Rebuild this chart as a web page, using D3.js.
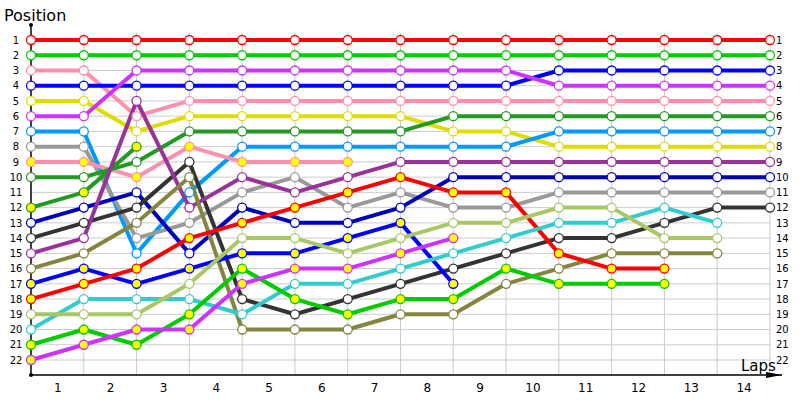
<!DOCTYPE html>
<html>
<head>
<meta charset="utf-8">
<script src="https://cdn.jsdelivr.net/npm/d3@7"></script>
<style>
  html, body { margin: 0; padding: 0; background: #fff; }
  svg { display: block; }
  text { font-family: Tahoma, "DejaVu Sans", Verdana, sans-serif; }
</style>
</head>
<body>
<svg id="chart" width="800" height="400"></svg>
<script>
// ---- data (positions per lap column, null = retired) ----
const lapLabels = ["1","2","3","4","5","6","7","8","9","10","11","12","13","14"];
const positionTicks = [1,2,3,4,5,6,7,8,9,10,11,12,13,14,15,16,17,18,19,20,21,22];

const redA       = [1,1,1,1,1,1,1,1,1,1,1,1,1,1,1];
const greenA     = [2,2,2,2,2,2,2,2,2,2,2,2,2,2,2];
const pinkA      = [3,3,6,5,5,5,5,5,5,5,5,5,5,5,5];
const blueA      = [4,4,4,4,4,4,4,4,4,4,3,3,3,3,3];
const yellowA    = [5,5,7,6,6,6,6,6,7,7,8,8,8,8,8];
const magentaA   = [6,6,3,3,3,3,3,3,3,3,4,4,4,4,4];
const skyA       = [7,7,15,11,8,8,8,8,8,8,7,7,7,7,7];
const grayA      = [8,8,14,13,11,10,12,11,12,12,11,11,11,11,11];
const pinkB      = [9,9,10,8,9,9,9,null,null,null,null,null,null,null,null];
const darkGreenA = [10,10,9,7,7,7,7,7,6,6,6,6,6,6,6];
const darkGreenB = [12,11,8,null,null,null,null,null,null,null,null,null,null,null,null];
const navyA      = [13,12,11,15,12,13,13,12,10,10,10,10,10,10,10];
const blackA     = [14,13,12,9,18,19,18,17,16,15,14,14,13,12,12];
const purpleA    = [15,14,5,12,10,11,10,9,9,9,9,9,9,9,9];
const oliveA     = [16,15,13,10,20,20,20,19,19,17,16,15,15,15,null];
const blueB      = [17,16,17,16,15,15,14,13,17,null,null,null,null,null,null];
const redB       = [18,17,16,14,13,12,11,10,11,11,15,16,16,null,null];
const cyanA      = [20,18,18,18,19,17,17,16,15,14,13,13,12,13,null];
const limeA      = [19,19,19,17,14,14,15,14,13,13,12,12,14,14,null];
const greenB     = [21,20,21,19,16,18,19,18,18,16,17,17,17,null,null];
const magentaB   = [22,21,20,20,17,16,16,15,14,null,null,null,null,null,null];

const seriesValues = [redA, greenA, pinkA, blueA, yellowA, magentaA, skyA, grayA, pinkB,
  darkGreenA, darkGreenB, navyA, blackA, purpleA, oliveA, blueB, redB, cyanA, limeA, greenB, magentaB];
const seriesColors = ["#ff0000","#00cc00","#ff8fab","#0000ff","#dddd00","#cc33ff","#0099ff","#999999","#ff8fab",
  "#229922","#229922","#0000bb","#333333","#993399","#85853f","#0000ff","#ff0000","#33cccc","#a8c866","#00cc00","#cc33ff"];
const seriesYellowMarker = [false,false,false,false,false,false,false,false,true,
  false,true,false,false,false,false,true,true,false,false,true,true];

// ---- layout ----
const svg = d3.select("#chart");
const x = d3.scaleLinear().domain([0, 14]).range([31, 770]);
const y = d3.scaleLinear().domain([1, 22]).range([40, 360]);
const axisY = 375;

// grid
const grid = svg.append("g");
grid.selectAll("line.h").data(positionTicks).join("line")
  .attr("x1", x(0)).attr("x2", x(14))
  .attr("y1", d => y(d)).attr("y2", d => y(d))
  .attr("stroke", "#cccccc").attr("stroke-width", 1);
grid.selectAll("line.v").data(d3.range(1, 15)).join("line")
  .attr("x1", d => x(d)).attr("x2", d => x(d))
  .attr("y1", 33).attr("y2", axisY)
  .attr("stroke", "#cccccc").attr("stroke-width", 1);

// axes
const leftAxis = d3.axisLeft(y).tickValues(positionTicks).tickSize(0).tickPadding(10);
const gl = svg.append("g").attr("transform", `translate(${x(0) - 7},0)`).call(leftAxis);
gl.select(".domain").remove();
gl.selectAll("text").attr("font-size", 10).attr("fill", "#000").attr("text-anchor", "middle").attr("dx", 2);

const rightAxis = d3.axisRight(y).tickValues(positionTicks).tickSize(0).tickPadding(6);
const gr = svg.append("g").attr("transform", `translate(${x(14)},0)`).call(rightAxis);
gr.select(".domain").remove();
gr.selectAll("text").attr("font-size", 10).attr("fill", "#000");

const lapScale = d3.scaleLinear().domain([0.5, 14.5]).range([x(0.5), x(14.5)]);
const bottomAxis = d3.axisBottom(lapScale).tickValues(d3.range(1, 15).map(d => d - 0.5))
  .tickFormat((d, i) => lapLabels[i]).tickSize(0).tickPadding(8);
const gb = svg.append("g").attr("transform", `translate(0,${axisY})`).call(bottomAxis);
gb.select(".domain").remove();
gb.selectAll("text").attr("font-size", 12).attr("fill", "#000");

// axis lines
svg.append("line").attr("x1", x(0)).attr("x2", x(0)).attr("y1", 25).attr("y2", axisY)
  .attr("stroke", "#000").attr("stroke-width", 1.5);
svg.append("line").attr("x1", x(0)).attr("x2", 782).attr("y1", axisY).attr("y2", axisY)
  .attr("stroke", "#000").attr("stroke-width", 1.5);
svg.append("path").attr("d", `M766,${axisY - 3} L782,${axisY} L766,${axisY + 3} Z`).attr("fill", "#000");
svg.append("circle").attr("cx", x(0)).attr("cy", 25).attr("r", 2).attr("fill", "#000");
svg.append("circle").attr("cx", x(0)).attr("cy", axisY).attr("r", 2).attr("fill", "#000");

svg.append("text").attr("x", 4).attr("y", 21).attr("font-size", 16).text("Position");
svg.append("text").attr("x", 741).attr("y", 371).attr("font-size", 15).text("Laps");

// series
const series = seriesValues.map((vals, i) => ({
  color: seriesColors[i], yellow: seriesYellowMarker[i],
  points: vals.map((v, j) => ({lap: j, pos: v})).filter(p => p.pos !== null)
}));

const line = d3.line().x(d => x(d.lap)).y(d => y(d.pos));
const gs = svg.append("g");
gs.selectAll("path").data(series).join("path")
  .attr("d", d => line(d.points))
  .attr("fill", "none").attr("stroke", d => d.color)
  .attr("stroke-width", 4).attr("stroke-linejoin", "round");

const gm = svg.append("g");
series.forEach(s => {
  gm.selectAll(null).data(s.points).join("circle")
    .attr("cx", d => x(d.lap)).attr("cy", d => y(d.pos)).attr("r", 4.5)
    .attr("fill", s.yellow ? "#ffff00" : "#ffffff")
    .attr("stroke", s.color).attr("stroke-width", 1.3);
});
</script>
</body>
</html>
